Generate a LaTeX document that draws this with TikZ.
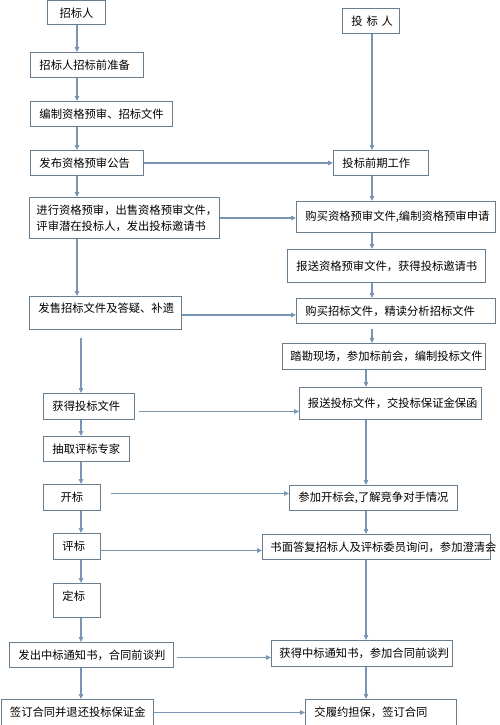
\documentclass[tikz,border=0pt]{standalone}
\usepackage{fontspec}
\setmainfont{Noto Sans CJK SC}
\usetikzlibrary{arrows.meta}
\definecolor{boxline}{RGB}{105,125,145}
\definecolor{flowline}{RGB}{120,150,180}

\begin{document}
\begin{tikzpicture}[x=1pt, y=-1pt,
                    flow box/.style={draw=boxline, line width=0.9pt, anchor=north west, inner xsep=9pt, inner ysep=2pt,
                                     align=left, font=\fontsize{11.3}{16}\selectfont},
                    mid box/.style={flow box, align=center},
                    top text/.style={text depth=10pt},
                    flow line/.style={draw=flowline, line width=1.2pt, -{Triangle[length=5pt, width=4.5pt]}}]

    \useasboundingbox (0,0) rectangle (500,725);

    % 招标人一侧
    \node[mid box,  text width=40pt,  minimum height=24pt]  (zbr)      at (47,0.5)  {招标人};
    \node[flow box, text width=95pt,  minimum height=25pt]  (prep)     at (30,52)   {招标人招标前准备};
    \node[flow box, text width=124pt, minimum height=25pt]  (bianzhi)  at (30,101)  {编制资格预审、招标文件};
    \node[flow box, text width=95pt,  minimum height=25pt]  (fabu)     at (30,150)  {发布资格预审公告};
    \node[flow box, text width=176pt, minimum height=41pt, inner xsep=7pt] (yushen) at (29,197)
        {进行资格预审，出售资格预审文件，\\评审潜在投标人，发出投标邀请书};
    \node[flow box, top text, text width=134pt, minimum height=33pt] (fashou) at (29,296) {发售招标文件及答疑、补遗};
    \node[flow box, text width=73pt,  minimum height=26pt]  (huode)    at (43,393)  {获得投标文件};
    \node[flow box, text width=68pt,  minimum height=25pt]  (chouqu)   at (43,436)  {抽取评标专家};
    \node[mid box,  text width=39pt,  minimum height=26pt]  (kaibiao)  at (43,484)  {开标};
    \node[flow box, text width=29pt,  minimum height=26pt]  (pingbiao) at (53,533)  {评标};
    \node[flow box, top text, text width=29pt, minimum height=34pt] (dingbiao) at (53,583) {定标};
    \node[flow box, text width=146pt, minimum height=25pt]  (fachu)    at (9,642)   {发出中标通知书，合同前谈判};
    \node[flow box, text width=134pt, minimum height=26pt]  (qianding) at (0.5,699) {签订合同并退还投标保证金};

    % 投标人一侧
    \node[mid box,  text width=39pt,  minimum height=25pt]  (tbr)      at (342,8)   {投~标~人};
    \node[flow box, text width=77pt,  minimum height=25pt]  (qianqi)   at (333,150) {投标前期工作};
    \node[flow box, text width=181pt, minimum height=31pt]  (goumai1)  at (296,201) {购买资格预审文件,编制资格预审申请};
    \node[flow box, text width=180pt, minimum height=33pt]  (baosong1) at (287,249) {报送资格预审文件，获得投标邀请书};
    \node[flow box, text width=181pt, minimum height=25pt]  (goumai2)  at (296,298) {购买招标文件，精读分析招标文件};
    \node[flow box, text width=187pt, minimum height=26pt, inner xsep=8pt] (takan) at (282,343) {踏勘现场，参加标前会，编制投标文件};
    \node[flow box, text width=165pt, minimum height=32pt, inner xsep=8.5pt] (baosong2) at (299,387) {报送投标文件，交投标保证金保函};
    \node[flow box, text width=150pt, minimum height=25pt]  (canjia)   at (289,485) {参加开标会,了解竞争对手情况};
    \node[flow box, text width=212pt, minimum height=25pt, inner xsep=8pt] (shumian) at (262,534) {书面答复招标人及评标委员询问，参加澄清会};
    \node[flow box, text width=165pt, minimum height=26pt, inner xsep=8pt] (huode2) at (271,640) {获得中标通知书，参加合同前谈判};
    \node[flow box, text width=133pt, minimum height=26pt]  (jiaolv)   at (305,699) {交履约担保，签订合同};

    \coordinate (lcol)  at (77,0);
    \coordinate (lcol2) at (81,0);
    \coordinate (rcol)  at (372,0);
    \coordinate (rcol2) at (366,0);

    % 左列纵向
    \draw[flow line] (zbr.south -| lcol)     -- (prep.north -| lcol);
    \draw[flow line] (prep.south -| lcol)    -- (bianzhi.north -| lcol);
    \draw[flow line] (bianzhi.south -| lcol) -- (fabu.north -| lcol);
    \draw[flow line] (fabu.south -| lcol)    -- (yushen.north -| lcol);
    \draw[flow line] (yushen.south -| lcol)  -- (fashou.north -| lcol);
    \draw[flow line] ([yshift=-8pt]fashou.south -| lcol2) -- (huode.north -| lcol2);
    \draw[flow line] (huode.south -| lcol2)    -- (chouqu.north -| lcol2);
    \draw[flow line] (chouqu.south -| lcol2)   -- (kaibiao.north -| lcol2);
    \draw[flow line] (kaibiao.south -| lcol2)  -- (pingbiao.north -| lcol2);
    \draw[flow line] (pingbiao.south -| lcol2) -- (dingbiao.north -| lcol2);
    \draw[flow line] (dingbiao.south -| lcol2) -- (fachu.north -| lcol2);
    \draw[flow line] (fachu.south -| lcol2)    -- (qianding.north -| lcol2);

    % 右列纵向
    \draw[flow line] (tbr.south -| rcol)      -- (qianqi.north -| rcol);
    \draw[flow line] (qianqi.south -| rcol)   -- (goumai1.north -| rcol);
    \draw[flow line] (goumai1.south -| rcol)  -- (baosong1.north -| rcol);
    \draw[flow line] (baosong1.south -| rcol) -- (goumai2.north -| rcol);
    \draw[flow line] ([yshift=-5pt]goumai2.south -| rcol) -- (takan.north -| rcol);
    \draw[flow line] (takan.south -| rcol2)    -- (baosong2.north -| rcol2);
    \draw[flow line] (baosong2.south -| rcol2) -- (canjia.north -| rcol2);
    \draw[flow line] (canjia.south -| rcol2)   -- (shumian.north -| rcol2);
    \draw[flow line] (shumian.south -| rcol2)  -- (huode2.north -| rcol2);
    \draw[flow line] (huode2.south -| rcol2)   -- (jiaolv.north -| rcol2);

    % 横向联系
    \draw[flow line] (fabu.east) -- (qianqi.west);
    \draw[flow line] (yushen.east) -- (yushen.east -| goumai1.west);
    \draw[flow line] ([yshift=-2pt]fashou.east) -- ([yshift=-2pt]fashou.east -| goumai2.west);
    \draw[flow line] ([xshift=4pt, yshift=-5pt]huode.east) -- ([yshift=-5pt]huode.east -| baosong2.west);
    \draw[flow line] ([xshift=10pt, yshift=4pt]kaibiao.east) -- ([yshift=4pt]kaibiao.east -| canjia.west);
    \draw[flow line] ([yshift=-4pt]pingbiao.east) -- ([yshift=-4pt]pingbiao.east -| shumian.west);
    \draw[flow line] ([xshift=3pt, yshift=-2.5pt]fachu.east) -- ([yshift=-2.5pt]fachu.east -| huode2.west);
    \draw[flow line] (qianding.east) -- (qianding.east -| jiaolv.west);

\end{tikzpicture}
\end{document}
